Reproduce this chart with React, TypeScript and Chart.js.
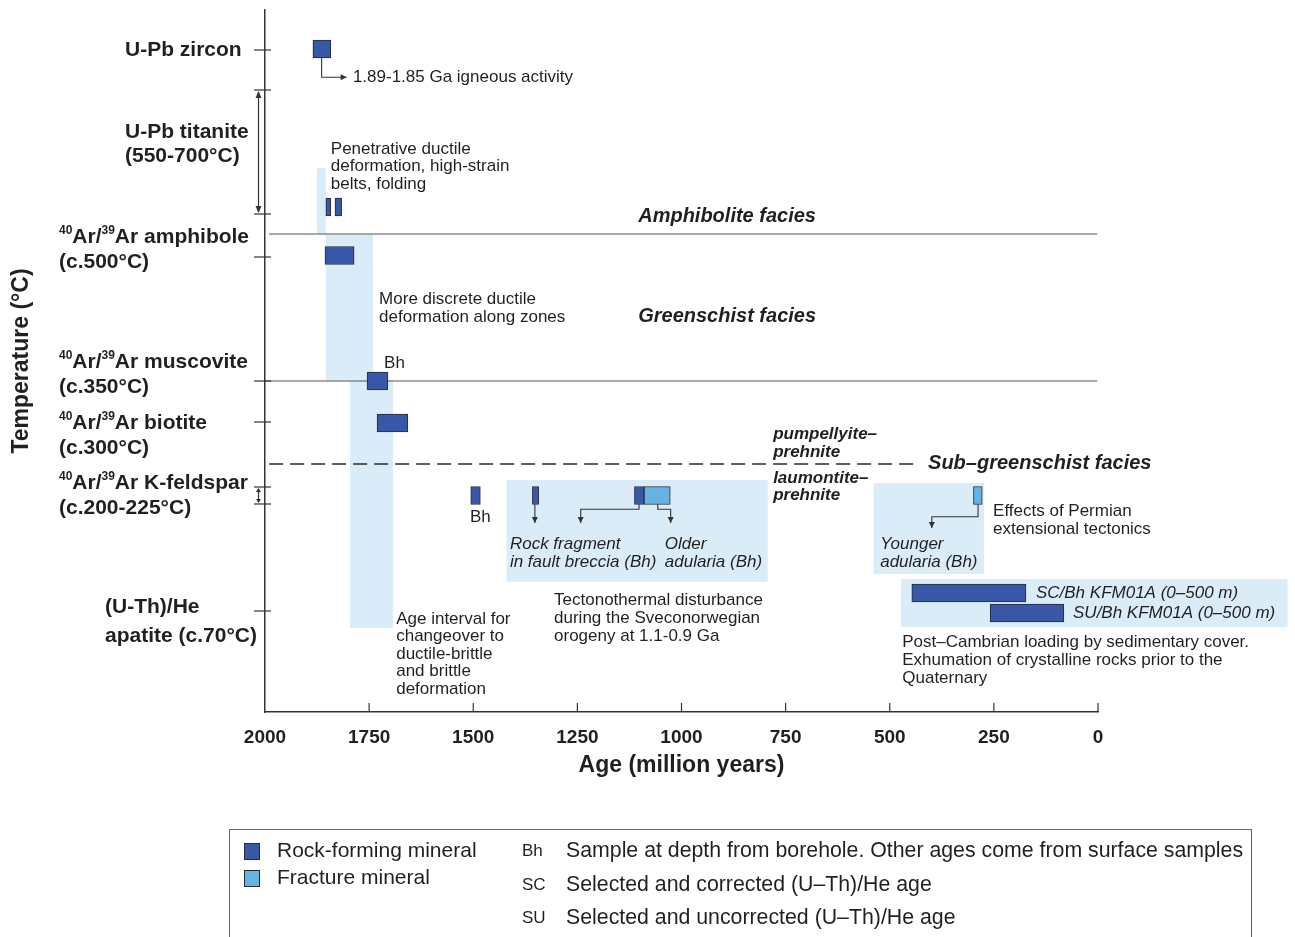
import React, { useEffect, useRef } from "react";
import { Chart, registerables } from "chart.js";

Chart.register(...registerables);

// ---------- scales ----------
const AGE_MIN = 0;
const AGE_MAX = 2000;
const AGE_STEP = 250;
const LEVEL_MIN = 0;
const LEVEL_MAX = 70.2;

// ---------- rock-forming mineral ages (Ma) ----------
const rockStart = [1885, 1854, 1832, 1856, 1755, 1731, 1506, 1358, 1113, 447, 259];
const rockEnd = [1842, 1842, 1816, 1786, 1705, 1657, 1483, 1343, 1090, 173, 82];
const rockLevel = [66.3, 50.5, 50.5, 45.65, 33.1, 28.9, 21.65, 21.65, 21.65, 11.9, 9.9];

// ---------- fracture mineral ages (Ma) ----------
const fracStart = [1090, 299];
const fracEnd = [1027, 278];
const fracLevel = [21.65, 21.65];

// ---------- shaded intervals ----------
const bandStart = [1875, 1854, 1796, 1420, 539, 473];
const bandEnd = [1854, 1741, 1693, 793, 274, -455];
const bandTop = [54.4, 47.73, 33.13, 23.2, 22.9, 13.3];
const bandBottom = [47.8, 33.13, 8.4, 13.03, 13.8, 8.5];

// ---------- facies boundaries ----------
const boundaryLevel = [47.8, 33.1, 24.8];
const boundaryFrom = [1990, 2000, 1990];
const boundaryTo = [2, 2, 432];
const boundaryDashed = [false, false, true];

// ---------- temperature axis ----------
const yTickLevels = [66.2, 62.2, 49.8, 45.5, 33.1, 29.0, 22.5, 20.8, 10.1];
const rangeFrom = [62.2, 22.5];
const rangeTo = [49.8, 20.8];
const tempLabelLines = [
  ["U-Pb zircon"],
  ["U-Pb titanite", "(550-700°C)"],
  ["{40}Ar/{39}Ar amphibole", "(c.500°C)"],
  ["{40}Ar/{39}Ar muscovite", "(c.350°C)"],
  ["{40}Ar/{39}Ar biotite", "(c.300°C)"],
  ["{40}Ar/{39}Ar K-feldspar", "(c.200-225°C)"],
  ["(U-Th)/He", "apatite (c.70°C)"],
];
const tempLabelLevels = [[66.2], [58.0, 55.6], [47.5, 45.0], [35.0, 32.5], [28.9, 26.4], [22.9, 20.4], [10.45, 7.6]];

// ---------- connectors (age, level) ----------
const connectorAges = [
  [1864, 1864, 1804],
  [1352, 1352],
  [1102, 1102, 1242, 1242],
  [1057, 1057, 1026, 1026],
  [288, 288, 399, 399],
];
const connectorLevels = [
  [65.4, 63.47, 63.47],
  [20.77, 18.9],
  [20.77, 20.27, 20.27, 18.9],
  [20.77, 20.27, 20.27, 18.9],
  [20.77, 19.53, 19.53, 18.4],
];

// ---------- annotations ----------
const noteText = [
  "1.89-1.85 Ga igneous activity",
  "Penetrative ductile",
  "deformation, high-strain",
  "belts, folding",
  "Amphibolite facies",
  "Greenschist facies",
  "More discrete ductile",
  "deformation along zones",
  "Bh",
  "Bh",
  "pumpellyite–",
  "prehnite",
  "laumontite–",
  "prehnite",
  "Sub–greenschist facies",
  "Rock fragment",
  "in fault breccia (Bh)",
  "Older",
  "adularia (Bh)",
  "Tectonothermal disturbance",
  "during the Sveconorwegian",
  "orogeny at 1.1-0.9 Ga",
  "Age interval for",
  "changeover to",
  "ductile-brittle",
  "and brittle",
  "deformation",
  "Younger",
  "adularia (Bh)",
  "Effects of Permian",
  "extensional tectonics",
  "SC/Bh KFM01A (0–500 m)",
  "SU/Bh KFM01A (0–500 m)",
  "Post–Cambrian loading by sedimentary cover.",
  "Exhumation of crystalline rocks prior to the",
  "Quaternary",
];
const noteAge = [
  1789, 1842, 1842, 1842, 1104, 1104, 1726, 1726, 1714, 1508, 780, 780, 780, 780, 408, 1412, 1412, 1040, 1040,
  1306, 1306, 1306, 1685, 1685, 1685, 1685, 1685, 523, 523, 252, 252, 149, 60, 470, 470, 470,
];
const noteLevel = [
  63.5, 56.3, 54.6, 52.8, 49.6, 39.6, 41.3, 39.5, 34.9, 19.5, 27.8, 26.0, 23.4, 21.7, 24.9, 16.8, 15.0, 16.8, 15.0,
  11.2, 9.4, 7.6, 9.3, 7.6, 5.8, 4.1, 2.3, 16.8, 15.0, 20.1, 18.3, 11.9, 9.9, 7.0, 5.2, 3.4,
];
const noteStyle = [
  "r", "r", "r", "r", "bi", "bi", "r", "r", "r", "r", "bis", "bis", "bis", "bis", "bi", "i", "i", "i", "i",
  "r", "r", "r", "r", "r", "r", "r", "r", "i", "i", "r", "r", "i", "i", "r", "r", "r",
];

// ---------- legend ----------
const legendSeries = ["Rock-forming mineral", "Fracture mineral"];
const legendAbbrev = ["Bh", "SC", "SU"];
const legendAbbrevText = [
  "Sample at depth from borehole. Other ages come from surface samples",
  "Selected and corrected (U–Th)/He age",
  "Selected and uncorrected (U–Th)/He age",
];

// ---------- styles ----------
const FONT = '"Liberation Sans", Arial, Helvetica, sans-serif';
const TEXT = "#231f20";
const DARK = "#3857a7";
const LIGHT = "#66b2e2";
const BAND = "#d9ecf8";
const EDGE = "#2a2a3a";
const AXIS = "#333333";
const LABEL_X = [125, 125, 59, 59, 59, 59, 105];
const NOTE_FONT: Record<string, string> = {
  r: `17px ${FONT}`,
  i: `italic 17px ${FONT}`,
  bi: `italic bold 20px ${FONT}`,
  bis: `italic bold 17px ${FONT}`,
};

function arrowHead(ctx: CanvasRenderingContext2D, x: number, y: number, dx: number, dy: number, len = 6, half = 3) {
  const px = -dy;
  const py = dx;
  ctx.beginPath();
  ctx.moveTo(x, y);
  ctx.lineTo(x - dx * len + px * half, y - dy * len + py * half);
  ctx.lineTo(x - dx * len - px * half, y - dy * len - py * half);
  ctx.closePath();
  ctx.fill();
}

function drawRich(ctx: CanvasRenderingContext2D, text: string, x: number, y: number, size: number) {
  const parts = text.split(/(\{[^}]*\})/).filter((p) => p.length > 0);
  let cx = x;
  for (const p of parts) {
    if (p.startsWith("{")) {
      const t = p.slice(1, -1);
      ctx.font = `bold ${Math.round(size * 0.55)}px ${FONT}`;
      ctx.fillText(t, cx, y - size * 0.3);
      cx += ctx.measureText(t).width;
    } else {
      ctx.font = `bold ${size}px ${FONT}`;
      ctx.fillText(p, cx, y);
      cx += ctx.measureText(p).width;
    }
  }
}

const overlayPlugin = {
  id: "overlay",
  beforeDatasetsDraw(chart: any) {
    const { ctx } = chart;
    const xs = chart.scales.x;
    const ys = chart.scales.y;
    const X = (a: number) => xs.getPixelForValue(a);
    const Y = (l: number) => ys.getPixelForValue(l);
    ctx.save();
    ctx.fillStyle = BAND;
    for (let i = 0; i < bandStart.length; i++) {
      const x1 = X(bandStart[i]);
      const x2 = X(bandEnd[i]);
      const y1 = Y(bandTop[i]);
      const y2 = Y(bandBottom[i]);
      ctx.fillRect(Math.min(x1, x2), Math.min(y1, y2), Math.abs(x2 - x1), Math.abs(y2 - y1));
    }
    for (let i = 0; i < boundaryLevel.length; i++) {
      ctx.beginPath();
      ctx.strokeStyle = boundaryDashed[i] ? "#2a2a2a" : "#555";
      ctx.lineWidth = boundaryDashed[i] ? 1.3 : 1.2;
      ctx.setLineDash(boundaryDashed[i] ? [14, 7] : []);
      const y = Y(boundaryLevel[i]);
      ctx.moveTo(X(boundaryFrom[i]), y);
      ctx.lineTo(X(boundaryTo[i]), y);
      ctx.stroke();
    }
    ctx.setLineDash([]);
    ctx.restore();
  },
  afterDatasetsDraw(chart: any) {
    const { ctx, chartArea } = chart;
    const xs = chart.scales.x;
    const ys = chart.scales.y;
    const X = (a: number) => xs.getPixelForValue(a);
    const Y = (l: number) => ys.getPixelForValue(l);
    ctx.save();
    // connectors
    ctx.strokeStyle = AXIS;
    ctx.fillStyle = AXIS;
    ctx.lineWidth = 1.1;
    for (let i = 0; i < connectorAges.length; i++) {
      const ages = connectorAges[i];
      const lv = connectorLevels[i];
      ctx.beginPath();
      const n = ages.length;
      for (let k = 0; k < n; k++) {
        const px = X(ages[k]);
        const py = Y(lv[k]);
        if (k === 0) ctx.moveTo(px, py);
        else ctx.lineTo(px, py);
      }
      ctx.stroke();
      const tx = X(ages[n - 1]);
      const ty = Y(lv[n - 1]);
      const fx = X(ages[n - 2]);
      const fy = Y(lv[n - 2]);
      const d = Math.hypot(tx - fx, ty - fy) || 1;
      arrowHead(ctx, tx, ty, (tx - fx) / d, (ty - fy) / d, 6, 3);
    }
    // notes
    ctx.fillStyle = TEXT;
    ctx.textBaseline = "middle";
    ctx.textAlign = "left";
    for (let i = 0; i < noteText.length; i++) {
      ctx.font = NOTE_FONT[noteStyle[i]];
      ctx.fillText(noteText[i], X(noteAge[i]), Y(noteLevel[i]));
    }
    // x ticks (inside)
    ctx.strokeStyle = AXIS;
    ctx.lineWidth = 1.2;
    for (const t of xs.ticks) {
      if (t.value === AGE_MAX) continue;
      const px = X(t.value);
      ctx.beginPath();
      ctx.moveTo(px, chartArea.bottom);
      ctx.lineTo(px, chartArea.bottom - 9);
      ctx.stroke();
    }
    // y ticks
    for (const l of yTickLevels) {
      const py = Y(l);
      ctx.beginPath();
      ctx.moveTo(chartArea.left - 11, py);
      ctx.lineTo(chartArea.left + 6, py);
      ctx.stroke();
    }
    // range arrows
    ctx.fillStyle = AXIS;
    for (let i = 0; i < rangeFrom.length; i++) {
      const ax = chartArea.left - 6.5;
      const y1 = Y(rangeFrom[i]);
      const y2 = Y(rangeTo[i]);
      ctx.beginPath();
      ctx.moveTo(ax, y1 + 2);
      ctx.lineTo(ax, y2 - 2);
      ctx.stroke();
      const small = Math.abs(y2 - y1) < 30;
      arrowHead(ctx, ax, y1 + 1, 0, -1, small ? 4 : 7, small ? 2.5 : 3);
      arrowHead(ctx, ax, y2 - 1, 0, 1, small ? 4 : 7, small ? 2.5 : 3);
    }
    // temperature labels
    ctx.fillStyle = TEXT;
    ctx.textBaseline = "middle";
    for (let i = 0; i < tempLabelLines.length; i++) {
      for (let k = 0; k < tempLabelLines[i].length; k++) {
        drawRich(ctx, tempLabelLines[i][k], LABEL_X[i], Y(tempLabelLevels[i][k]), 21);
      }
    }
    ctx.restore();
  },
  afterDraw(chart: any) {
    const { ctx } = chart;
    ctx.save();
    ctx.strokeStyle = "#666";
    ctx.lineWidth = 1;
    ctx.strokeRect(229.5, 829.5, 1022, 140);
    const sw = [DARK, LIGHT];
    ctx.textBaseline = "middle";
    ctx.textAlign = "left";
    for (let i = 0; i < legendSeries.length; i++) {
      const y = 843 + i * 27;
      ctx.fillStyle = sw[i];
      ctx.fillRect(244, y, 16, 17);
      ctx.strokeStyle = EDGE;
      ctx.strokeRect(244.5, y + 0.5, 15, 16);
      ctx.fillStyle = TEXT;
      ctx.font = `21px ${FONT}`;
      ctx.fillText(legendSeries[i], 277, y + 8.5);
    }
    const ay = [851, 885, 918];
    for (let i = 0; i < legendAbbrev.length; i++) {
      ctx.fillStyle = TEXT;
      ctx.font = `17px ${FONT}`;
      ctx.fillText(legendAbbrev[i], 522, ay[i]);
      ctx.font = `21.3px ${FONT}`;
      ctx.fillText(legendAbbrevText[i], 566, ay[i]);
    }
    ctx.restore();
  },
};

export default function App() {
  const ref = useRef<HTMLCanvasElement>(null);
  useEffect(() => {
    const canvas = ref.current;
    if (!canvas) return;
    const rockData = rockStart.map((s, i) => ({ x: [s, rockEnd[i]], y: rockLevel[i] }));
    const fracData = fracStart.map((s, i) => ({ x: [s, fracEnd[i]], y: fracLevel[i] }));
    const chart = new Chart(canvas, {
      type: "bar",
      data: {
        datasets: [
          {
            label: legendSeries[0],
            data: rockData as any,
            backgroundColor: DARK,
            borderColor: EDGE,
            borderWidth: 1,
            borderSkipped: false,
            barThickness: 18,
            grouped: false,
          } as any,
          {
            label: legendSeries[1],
            data: fracData as any,
            backgroundColor: LIGHT,
            borderColor: EDGE,
            borderWidth: 1,
            borderSkipped: false,
            barThickness: 18,
            grouped: false,
          } as any,
        ],
      },
      options: {
        indexAxis: "y",
        responsive: false,
        animation: false,
        devicePixelRatio: 1,
        layout: { padding: { left: 0, right: 197, top: 10, bottom: 0 } },
        plugins: { legend: { display: false }, tooltip: { enabled: false } },
        scales: {
          x: {
            type: "linear",
            min: AGE_MIN,
            max: AGE_MAX,
            reverse: true,
            offset: false,
            position: "bottom",
            grid: { display: false, drawTicks: false },
            border: { display: true, color: AXIS, width: 1.5 },
            ticks: {
              stepSize: AGE_STEP,
              autoSkip: false,
              maxRotation: 0,
              padding: 14,
              color: TEXT,
              font: { family: FONT, size: 19, weight: "bold" },
              callback: (v: any) => String(v),
            },
            title: {
              display: true,
              text: "Age (million years)",
              color: TEXT,
              font: { family: FONT, size: 23, weight: "bold" },
              padding: { top: 0, bottom: 158 },
            },
            afterFit: (s: any) => {
              s.height = 225;
            },
          },
          y: {
            type: "linear",
            min: LEVEL_MIN,
            max: LEVEL_MAX,
            offset: false,
            position: "left",
            grid: { display: false, drawTicks: false },
            border: { display: true, color: AXIS, width: 1.5 },
            ticks: { display: false },
            title: {
              display: true,
              text: "Temperature (°C)",
              color: TEXT,
              font: { family: FONT, size: 23, weight: "bold" },
              padding: { top: 8, bottom: 0 },
            },
            afterFit: (s: any) => {
              s.width = 265;
            },
          },
        },
      } as any,
      plugins: [overlayPlugin as any],
    });
    return () => chart.destroy();
  }, []);
  return (
    <div style={{ position: "fixed", left: 0, top: 0, width: 1295, height: 937, background: "#fff", overflow: "hidden" }}>
      <canvas ref={ref} width={1295} height={937} style={{ display: "block", width: 1295, height: 937 }} />
    </div>
  );
}
